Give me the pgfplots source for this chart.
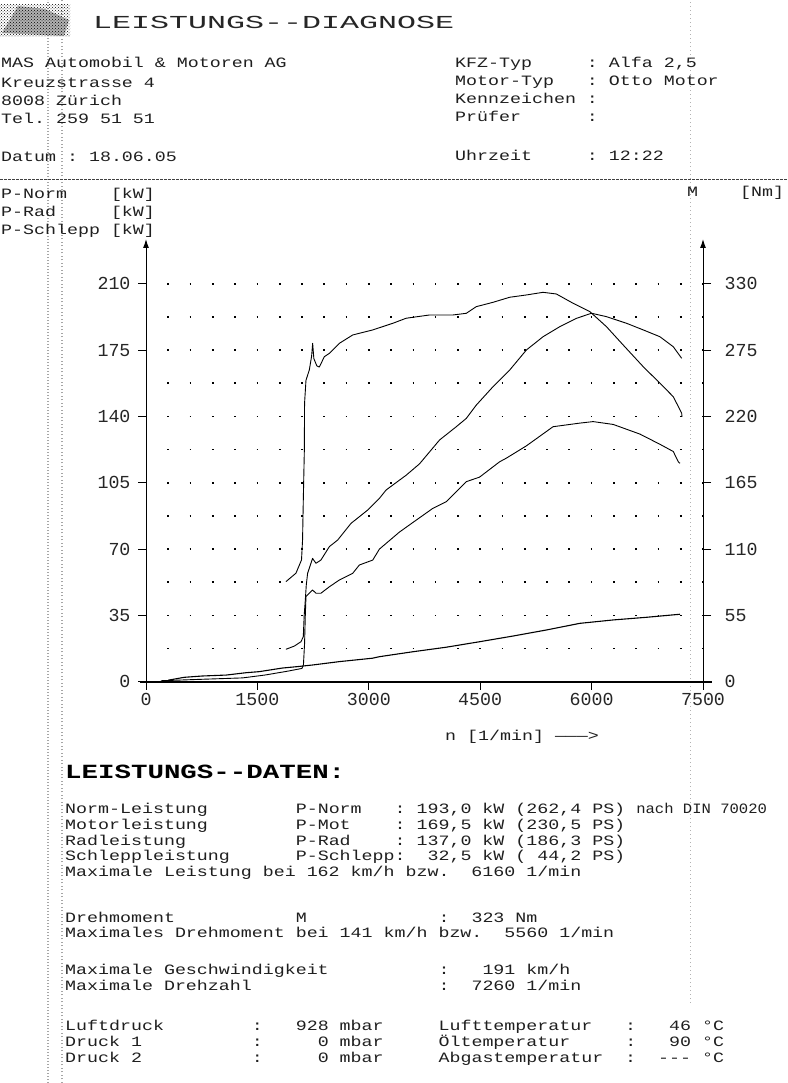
\documentclass[border=0pt]{standalone}
\usepackage{fontspec}
\setmainfont{Liberation Mono}
\usepackage{pgfplots}
\pgfplotsset{compat=1.18}
\usetikzlibrary{arrows.meta,patterns}
\newcommand\tf{\fontsize{18.3}{20}\selectfont}
\newcommand\T[3]{\node[anchor=base west,inner sep=0pt,font=\tf,text=black!88] at (#1pt,#2pt) {\scalebox{1}[0.78]{#3}};}
\begin{document}
\begin{tikzpicture}
\path[use as bounding box] (0pt,0pt) rectangle (787pt,1083pt);
\clip (0pt,0pt) rectangle (787pt,1083pt);
\fill[white] (0pt,0pt) rectangle (787pt,1083pt);
% scan artefacts
\draw[black!35, line width=1.2pt, dash pattern=on 1pt off 2pt] (48pt,0pt) -- (48pt,1083pt);
\draw[black!35, line width=1.2pt, dash pattern=on 1pt off 2.5pt] (62pt,0pt) -- (62pt,1083pt);
\draw[black!30, line width=1pt, dash pattern=on 1pt off 3pt] (690pt,80pt) -- (690pt,1083pt);
\fill[black!30] (2pt,1050pt) -- (18pt,1077pt) -- (45pt,1074pt) -- (69pt,1063pt) -- (64pt,1047pt) -- cycle;
\fill[pattern=crosshatch dots, pattern color=black] (0pt,1046pt) rectangle (70pt,1078pt);
% header
\node[anchor=base west,inner sep=0pt,font=\tf,text=black!85] at (93pt,1054pt) {\scalebox{1.73}[1.0]{LEISTUNGS-{}-DIAGNOSE}};
\T{1}{1015}{MAS~Automobil~\&~Motoren~AG}
\T{1}{995}{Kreuzstrasse~4}
\T{1}{977}{8008~Zürich}
\T{1}{959}{Tel.~259~51~51}
\T{1}{921}{Datum~:~18.06.05}
\T{455}{1015}{KFZ-Typ~~~~~:~Alfa~2,5}
\T{455}{997}{Motor-Typ~~~:~Otto~Motor}
\T{455}{979}{Kennzeichen~:}
\T{455}{961}{Prüfer~~~~~~:}
\T{455}{922}{Uhrzeit~~~~~:~12:22}
\draw[black!75, line width=0.8pt, dash pattern=on 3pt off 1pt] (0pt,904pt) -- (787pt,904pt);
\T{1}{884}{P-Norm~~~~[kW]}
\T{1}{866}{P-Rad~~~~~[kW]}
\T{1}{848}{P-Schlepp~[kW]}
\T{687}{886}{M}
\T{740}{886}{[Nm]}
% power axis
\begin{axis}[
  at={(146pt,401.3pt)}, anchor=south west,
  scale only axis, width=557pt, height=435.7pt,
  xmin=0, xmax=7500, ymin=0, ymax=230,
  axis x line=bottom, axis y line=left,
  x axis line style={-, line width=2pt, shorten <=-6pt, shorten >=-9pt},
  y axis line style={-{Latex[length=9pt,width=6pt]}, line width=1pt, shorten >=-7pt},
  xtick={0,1500,3000,4500,6000,7500},
  ytick={0,35,70,105,140,175,210},
  minor ytick={17.5,52.5,87.5,122.5,157.5,192.5},
  tick align=outside, major tick length=8pt, minor tick length=0pt,
  tick style={black, line width=1pt},
  ymajorgrids, yminorgrids,
  major grid style={black, line width=1.7pt, dash pattern=on 1.7pt off 20.58pt, dash phase=0.85pt},
  minor grid style={black, line width=1.7pt, dash pattern=on 1.7pt off 20.58pt, dash phase=0.85pt},
  ticklabel style={font=\tf, text=black!85},
  yticklabel style={xshift=-4pt},
  /pgf/number format/assume math mode=true,
  /pgf/number format/set thousands separator={},
  clip=false,
]
% P-Norm
\addplot[black, line width=0.9pt, line join=round, mark=none] coordinates {
(1884,17.1)(1997,18.8)(2087,21.1)(2118,23.8)(2130,35)(2145,43)(2158,51)(2176,57.2)
(2243,65.1)(2288,62.5)(2355,64.2)(2469,71.3)(2581,74.8)(2761,83.6)(2985,90.6)
(3143,96.8)(3233,101.2)(3503,109)(3683,115)(3953,127.6)(4178,134.6)(4313,139)
(4447,146)(4672,155.7)(4897,164.5)(5122,175.1)(5346,182.1)(5571,187.4)(5796,191.8)
(5998,194.5)(6200,192.7)(6470,189.2)(6695,185.7)(6920,182.1)(7100,176.8)(7213,170.7)
};
% P-Rad
\addplot[black, line width=0.9pt, line join=round, mark=none] coordinates {
(200,0.5)(700,1.2)(1300,2)(1600,3.5)(1900,5.5)(2100,7)(2120,9)(2135,20)(2145,35)
(2154,44.9)(2243,48.4)(2288,46.7)(2355,46.7)(2469,50.1)(2604,53.7)(2783,57.2)
(2873,61.6)(3053,64.2)(3143,70)(3413,79)(3592,84)(3862,91.5)(4043,95)(4313,105.6)
(4492,108)(4762,116.1)(4852,118)(5122,124.5)(5481,134.6)(5841,136.5)(6021,137.3)
(6291,135.8)(6651,130.7)(6921,125.3)(7100,121.5)(7168,116)(7190,115.3)
};
% P-Schlepp
\addplot[black, line width=1.1pt, line join=round, mark=none] coordinates {
(300,0.8)(513,2.3)(755,3.0)(1080,3.5)(1349,4.75)(1524,5.3)(1835,7.2)(2023,7.9)
(2240,8.8)(2604,10.6)(3050,12.4)(3143,13.2)(3592,15.8)(4043,18.2)(4492,21.1)
(4942,24.1)(5392,27.3)(5841,30.8)(6291,32.6)(6741,34)(7190,35.6)
};
\end{axis}
% torque axis
\begin{axis}[
  at={(146pt,401.3pt)}, anchor=south west,
  scale only axis, width=557pt, height=435.7pt,
  xmin=0, xmax=7500, ymin=0, ymax=361.43,
  hide x axis, axis y line=right,
  y axis line style={-{Latex[length=9pt,width=6pt]}, line width=1pt, shorten >=-7pt},
  ytick={0,55,110,165,220,275,330},
  tick align=outside, major tick length=8pt,
  tick style={black, line width=1pt},
  ticklabel style={font=\tf, text=black!85},
  yticklabel style={xshift=10pt},
  /pgf/number format/assume math mode=true,
  clip=false,
]
\addplot[black, line width=0.9pt, line join=round, mark=none] coordinates {
(1884,83)(2019,90)(2094,101)(2108,117.6)(2118,150.7)(2132,192)(2135,231)(2154,250)
(2199,258.6)(2230,270)(2244,280.7)(2260,268)(2300,262)(2334,261)(2401,269.6)
(2469,272.4)(2604,280.7)(2783,287.6)(3053,291.8)(3323,297.3)(3503,301.5)(3818,304.2)
(4133,304.2)(4313,305.6)(4447,311.1)(4672,314.7)(4897,318.9)(5122,320.8)(5346,323)
(5526,321.6)(5751,313.9)(5976,307)(6200,294.5)(6425,279.3)(6695,261.3)(6920,247.6)
(7100,236.4)(7213,222.7)(7217,219.6)
};
\end{axis}
\T{445}{342}{n~[1/min]~———>}
% data block
\node[anchor=base west,inner sep=0pt,font=\tf,text=black] at (65pt,304pt) {\scalebox{1.5}[1.1]{\bfseries LEISTUNGS-{}-DATEN:}};
\T{65}{269}{Norm-Leistung~~~~~~~~P-Norm~~~:~193,0~kW~(262,4~PS)~\scalebox{0.85}[1]{nach~DIN~70020}}
\T{65}{253}{Motorleistung~~~~~~~~P-Mot~~~~:~169,5~kW~(230,5~PS)}
\T{65}{237}{Radleistung~~~~~~~~~~P-Rad~~~~:~137,0~kW~(186,3~PS)}
\T{65}{222}{Schleppleistung~~~~~~P-Schlepp:~~32,5~kW~(~44,2~PS)}
\T{65}{206}{Maximale~Leistung~bei~162~km/h~bzw.~~6160~1/min}
\T{65}{160}{Drehmoment~~~~~~~~~~~M~~~~~~~~~~~~:~~323~Nm}
\T{65}{145}{Maximales~Drehmoment~bei~141~km/h~bzw.~~5560~1/min}
\T{65}{108}{Maximale~Geschwindigkeit~~~~~~~~~~:~~~191~km/h}
\T{65}{92}{Maximale~Drehzahl~~~~~~~~~~~~~~~~~:~~7260~1/min}
\T{65}{52}{Luftdruck~~~~~~~~:~~~928~mbar~~~~~Lufttemperatur~~~:~~~46~°C}
\T{65}{36}{Druck~1~~~~~~~~~~:~~~~~0~mbar~~~~~Öltemperatur~~~~~:~~~90~°C}
\T{65}{20}{Druck~2~~~~~~~~~~:~~~~~0~mbar~~~~~Abgastemperatur~~:~~-{}-{}-~°C}
\end{tikzpicture}
\end{document}
